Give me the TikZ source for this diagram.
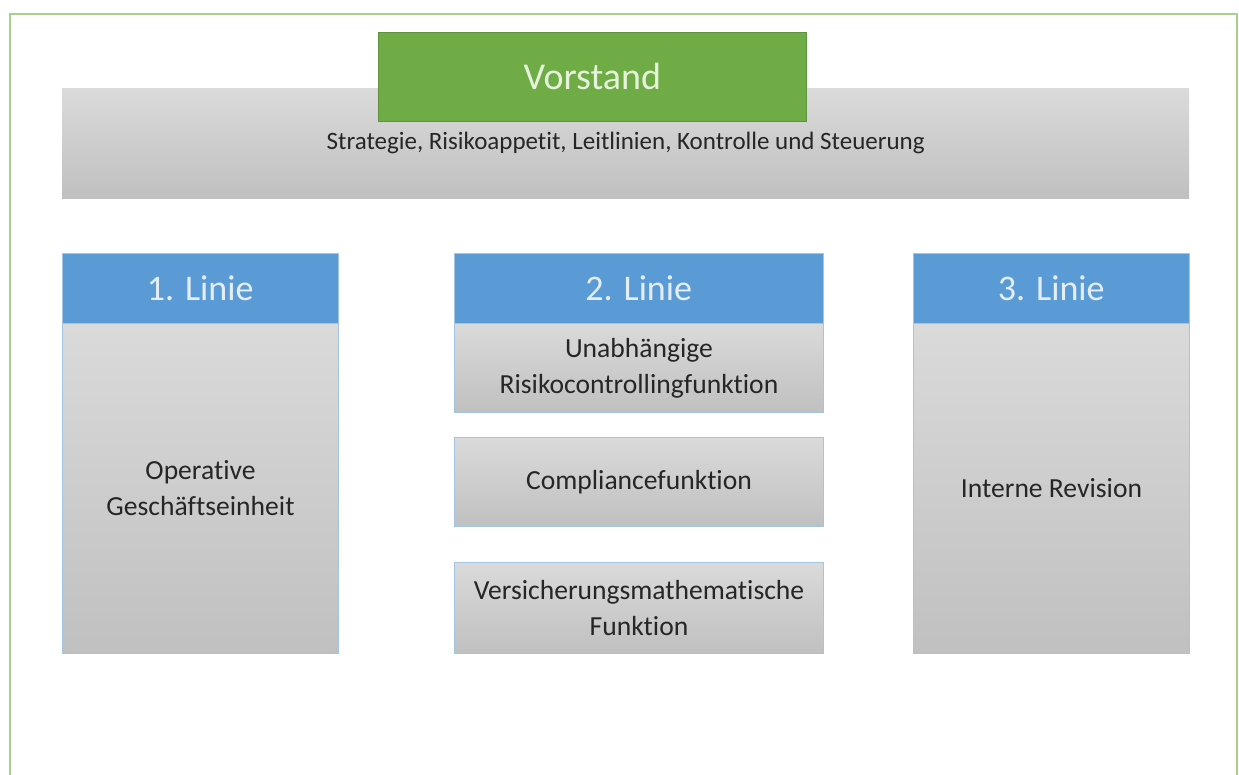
\documentclass[tikz,border=0pt]{standalone}
\usepackage{fontspec}
\setmainfont{Carlito}[Ligatures=NoCommon]
\definecolor{frameGreen}{HTML}{A9D18E}
\definecolor{vGreen}{HTML}{6FAC46}
\definecolor{vText}{HTML}{E6F2DC}
\definecolor{hBlue}{HTML}{5B9BD5}
\definecolor{hText}{HTML}{E4EEF8}
\definecolor{gTop}{HTML}{DADADA}
\definecolor{gBot}{HTML}{C0C0C0}
\definecolor{bEdge}{HTML}{A4C4E4}
\definecolor{txt}{HTML}{262626}
\begin{document}
\begin{tikzpicture}[x=1pt,y=-1pt,
  grayband/.style={top color=gTop,bottom color=gBot,draw=none,inner sep=0pt,anchor=north west,
    text=txt,font=\fontsize{25}{30}\selectfont},
  vbox/.style={fill=vGreen,draw=vGreen!85!black,line width=0.6pt,inner sep=0pt,anchor=north west,
    minimum width=428pt,minimum height=89pt,text=vText,font=\fontsize{38}{42}\selectfont},
  headbox/.style={fill=hBlue,draw=bEdge,line width=0.6pt,inner sep=0pt,anchor=north west,
    minimum height=70pt,text=hText,font=\fontsize{36}{40}\selectfont},
  bodybox/.style={top color=gTop,bottom color=gBot,draw=bEdge,line width=1pt,inner sep=0pt,
    anchor=north west,align=center,text=txt,font=\fontsize{27.6}{36}\selectfont}
]
\useasboundingbox (0,0) rectangle (1239,774);
\fill[white] (0,0) rectangle (1239,774);
\begin{scope}
\clip (0,0) rectangle (1239,774);
\draw[frameGreen,line width=2pt] (10,14) rectangle (1237,800);
\end{scope}

\node[grayband,minimum width=1127pt,minimum height=110pt] (band) at (62,88)
  {Strategie, Risikoappetit, Leitlinien, Kontrolle und Steuerung};
\node[vbox] (vorstand) at (378,32) {Vorstand};

% 1. Linie
\node[headbox,minimum width=276pt] (h1) at (62,253) {1. Linie};
\node[bodybox,minimum width=276pt,minimum height=330pt] (b1) at (62,323)
  {Operative\\Geschäftseinheit};

% 2. Linie
\node[headbox,minimum width=369pt] (h2) at (454,253) {2. Linie};
\node[bodybox,minimum width=369pt,minimum height=89pt] (b21) at (454,323)
  {Unabhängige\\Risikocontrollingfunktion};
\node[bodybox,minimum width=369pt,minimum height=89pt] (b22) at (454,437)
  {Compliancefunktion};
\node[bodybox,minimum width=369pt,minimum height=91pt] (b23) at (454,562)
  {Versicherungsmathematische\\Funktion};

% 3. Linie
\node[headbox,minimum width=276pt] (h3) at (913,253) {3. Linie};
\node[bodybox,minimum width=276pt,minimum height=330pt] (b3) at (913,323)
  {Interne Revision};
\end{tikzpicture}
\end{document}
